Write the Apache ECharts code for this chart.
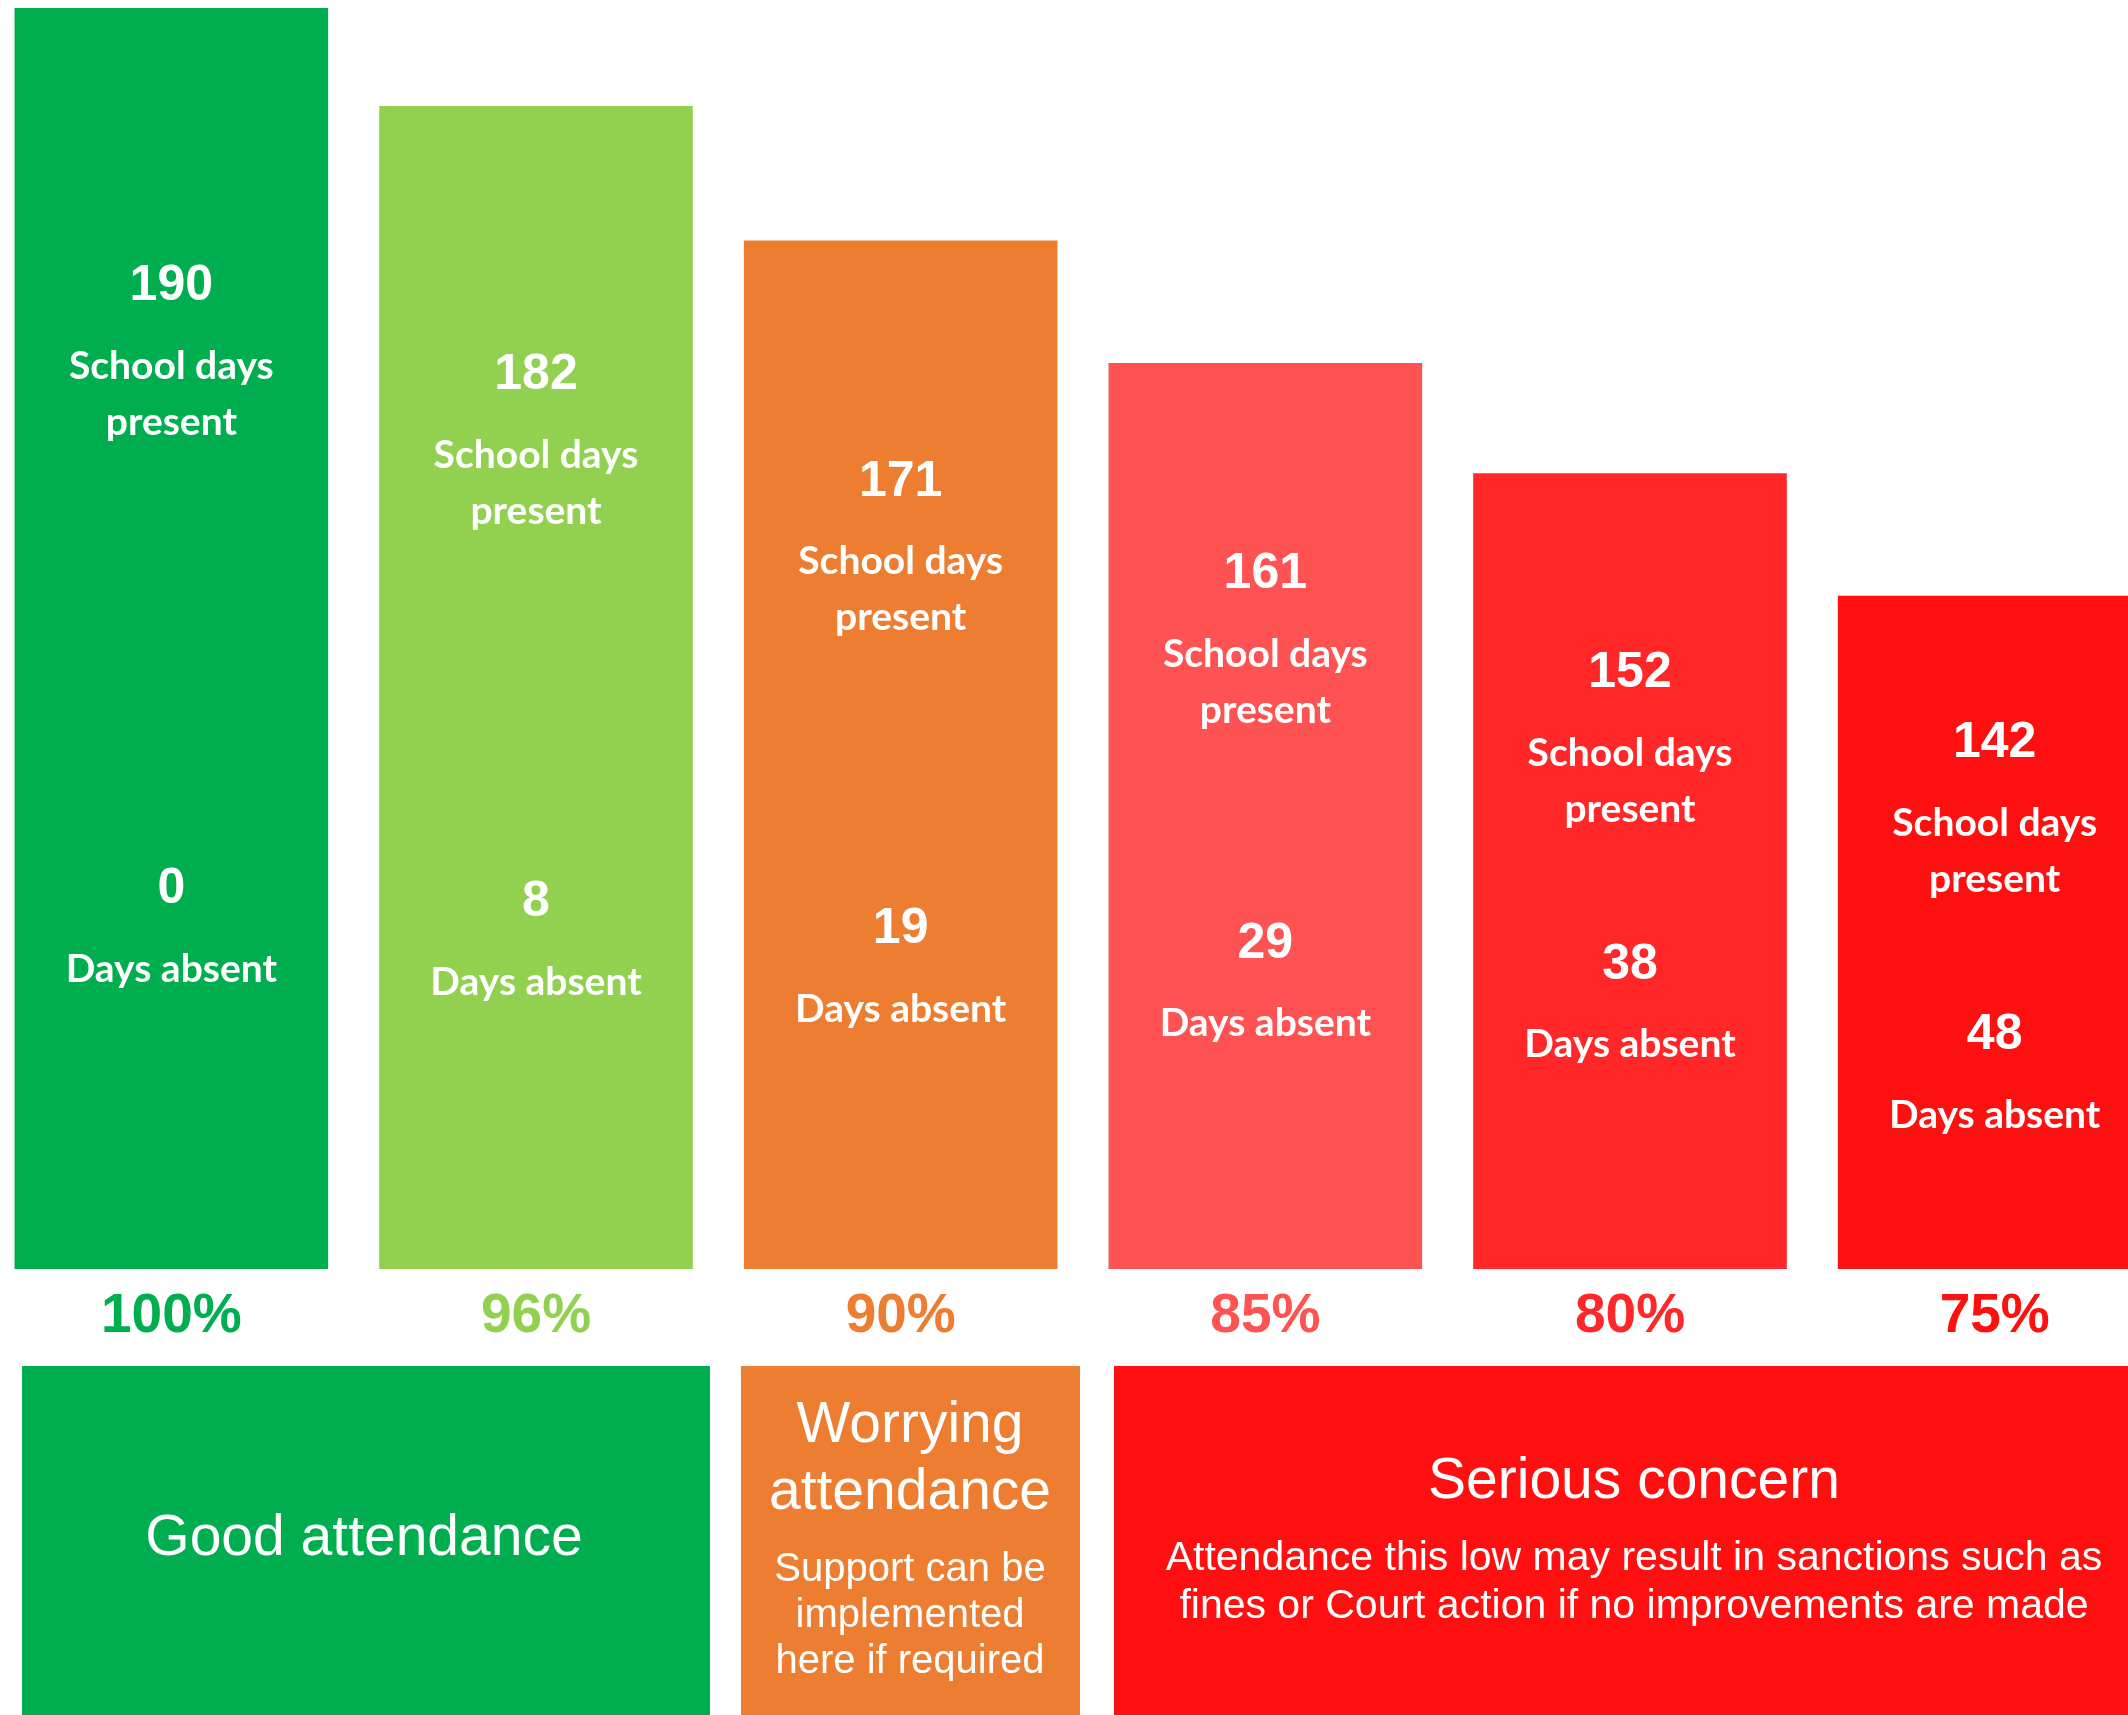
<!DOCTYPE html>
<html>
<head>
<meta charset="utf-8">
<script src="https://cdn.jsdelivr.net/npm/echarts@6/dist/echarts.min.js"></script>
<style>
  html, body { margin: 0; padding: 0; background: #ffffff; }
  #chart { width: 2128px; height: 1715px; }
</style>
</head>
<body>
<div id="chart"></div>
<script>
// ---- data ----
const categories = ['100%', '96%', '90%', '85%', '80%', '75%'];
const daysPresent = [190, 182, 171, 161, 152, 142];
const daysAbsent = [0, 8, 19, 29, 38, 48];
const presentText = ['School days', 'present'];
const absentText = 'Days absent';
const bandTitles = ['Good attendance', 'Worrying\nattendance', 'Serious concern'];
const bandNotes = ['', 'Support can be\nimplemented\nhere if required', 'Attendance this low may result in sanctions such as\nfines or Court action if no improvements are made'];

// ---- styles ----
const barColors = ['#00AE50', '#92D050', '#ED7D31', '#FF5252', '#FF2727', '#FF1010'];
const labelColors = ['#00AE50', '#92D050', '#ED7D31', '#FF5252', '#FF2727', '#FF1010'];
const presentPos = [0.265, 0.280, 0.289, 0.295, 0.322, 0.303];
const absentPos = [0.721, 0.709, 0.697, 0.672, 0.653, 0.694];
const bandColors = ['#00AE50', '#ED7D31', '#FF0F0F'];

const richStyle = {
  n: { fontFamily: '"Liberation Sans", Arial, sans-serif', fontWeight: 'bold', fontSize: 50, lineHeight: 104, color: '#ffffff', align: 'center' },
  t: { fontFamily: 'Lato, "Open Sans", sans-serif', fontWeight: 'bold', fontSize: 39, lineHeight: 56, color: '#ffffff', align: 'center' }
};

const pct = v => (v * 100).toFixed(1) + '%';

const presentData = daysPresent.map((v, i) => ({
  value: v,
  itemStyle: { color: barColors[i] },
  label: { position: ['50%', pct(presentPos[i])] }
}));
const absentData = daysPresent.map((v, i) => ({
  value: v,
  label: { position: ['50%', pct(absentPos[i])] }
}));

const AR = '"Liberation Sans", Arial, sans-serif';
const graphics = [];
const bands = [
  { x: 22, w: 688 },
  { x: 741, w: 339 },
  { x: 1114, w: 1014 }
];
bands.forEach((b, i) => {
  graphics.push({ type: 'rect', shape: { x: b.x, y: 1366, width: b.w, height: 349 }, style: { fill: bandColors[i] }, silent: true });
});
function addText(text, x, y, size, lh) {
  graphics.push({
    type: 'text', x: x, y: y, silent: true,
    style: { text: text, fill: '#ffffff', font: size + 'px ' + AR, lineHeight: lh,
      align: 'center', verticalAlign: 'middle', textAlign: 'center', textVerticalAlign: 'middle' }
  });
}
addText(bandTitles[0], 364, 1539, 57, 67);
addText(bandTitles[1], 910, 1460, 57, 67);
addText(bandNotes[1], 910, 1616, 40, 46);
addText(bandTitles[2], 1634, 1482, 57, 67);
addText(bandNotes[2], 1634, 1583, 41, 48);

const chart = echarts.init(document.getElementById('chart'), null, { renderer: 'canvas' });
chart.setOption({
  animation: false,
  backgroundColor: '#ffffff',
  grid: { left: -11, top: 8, width: 2188, bottom: 446, containLabel: false, outerBoundsMode: 'none' },
  xAxis: {
    type: 'category',
    data: categories.map((c, i) => ({ value: c, textStyle: { color: labelColors[i] } })),
    axisLine: { show: false },
    axisTick: { show: false },
    splitLine: { show: false },
    axisLabel: {
      interval: 0, margin: 20,
      fontFamily: AR, fontWeight: 'bold', fontSize: 55, lineHeight: 56
    }
  },
  yAxis: {
    type: 'value', min: 87, max: 190, show: false,
    splitLine: { show: false }
  },
  series: [
    {
      name: 'School days present',
      type: 'bar',
      barWidth: '86%',
      data: presentData,
      label: {
        show: true, align: 'center', verticalAlign: 'middle',
        formatter: p => '{n|' + daysPresent[p.dataIndex] + '}\n{t|' + presentText[0] + '}\n{t|' + presentText[1] + '}',
        rich: richStyle
      }
    },
    {
      name: 'Days absent',
      type: 'bar',
      barWidth: '86%',
      barGap: '-100%',
      silent: true,
      itemStyle: { color: 'rgba(0,0,0,0)' },
      data: absentData,
      z: 3,
      label: {
        show: true, align: 'center', verticalAlign: 'middle',
        formatter: p => '{n|' + daysAbsent[p.dataIndex] + '}\n{t|' + absentText + '}',
        rich: richStyle
      }
    }
  ],
  graphic: { elements: graphics }
});
</script>
</body>
</html>
